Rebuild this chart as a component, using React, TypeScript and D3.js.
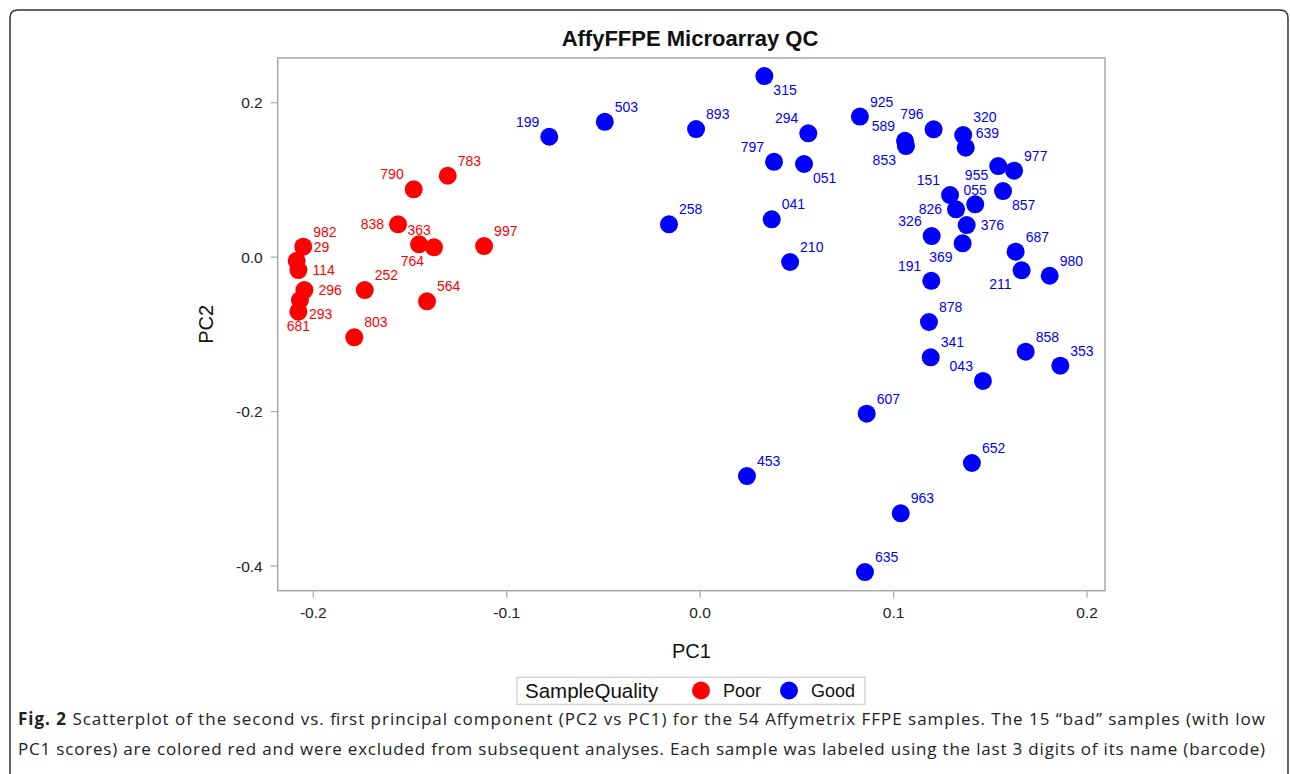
import React from "react";
import * as d3 from "d3";

const poorIds = ["783","790","838","363","764","997","982","29","114","296","293","681","252","564","803"];
const poorPC1 = [-0.1305,-0.1481,-0.1562,-0.1453,-0.1376,-0.1117,-0.2052,-0.2086,-0.2077,-0.2046,-0.2069,-0.2077,-0.1734,-0.1412,-0.1788];
const poorPC2 = [0.1054,0.0878,0.0425,0.0166,0.0127,0.0144,0.0135,-0.0047,-0.0167,-0.0426,-0.0556,-0.0707,-0.0426,-0.0572,-0.1039];
const poorLabelPos = ["ne","nw","w","n","sw","ne","ne","ene","e","e","se","s","ne","ne","ne"];

const goodIds = ["315","199","503","893","294","925","797","051","258","041","210","589","853","796","320","639","977","955","857","151","826","055","376","326","369","687","211","980","191","878","341","043","858","353","607","652","963","635","453"];
const goodPC1 = [0.0332,-0.0780,-0.0493,-0.0021,0.0559,0.0826,0.0382,0.0537,-0.0161,0.0370,0.0465,0.1059,0.1064,0.1207,0.1360,0.1373,0.1623,0.1541,0.1566,0.1292,0.1323,0.1422,0.1378,0.1197,0.1357,0.1631,0.1662,0.1807,0.1195,0.1183,0.1192,0.1462,0.1683,0.1862,0.0861,0.1405,0.1037,0.0852,0.0242];
const goodPC2 = [0.2345,0.1559,0.1753,0.1659,0.1603,0.1821,0.1235,0.1206,0.0425,0.0490,-0.0063,0.1507,0.1439,0.1655,0.1581,0.1417,0.1119,0.1180,0.0856,0.0804,0.0619,0.0684,0.0416,0.0273,0.0179,0.0070,-0.0171,-0.0241,-0.0306,-0.0840,-0.1298,-0.1604,-0.1225,-0.1406,-0.2028,-0.2666,-0.3318,-0.4078,-0.2835];
const goodLabelPos = ["se","nw","ne","ne","nw","ne","nw","se","ne","ne","ne","nw","sw","nw","ne2","ne","ne","sw2","se","nw","w","n","e","nw","sw","ne","sw","ne","nw","ne","ne","nw","ne","ne","ne","ne","ne","ne","ne"];

const xTicks = [-0.2, -0.1, 0.0, 0.1, 0.2];
const yTicks = [0.2, 0.0, -0.2, -0.4];
const groups = ["Poor", "Good"];
const groupColors = ["#FF0000", "#0000FF"];

const titleText = "AffyFFPE Microarray QC";
const legendTitle = "SampleQuality";
const captionBold = "Fig. 2";
const captionLine1 = " Scatterplot of the second vs. first principal component (PC2 vs PC1) for the 54 Affymetrix FFPE samples. The 15 \u201cbad\u201d samples (with low";
const captionLine2 = "PC1 scores) are colored red and were excluded from subsequent analyses. Each sample was labeled using the last 3 digits of its name (barcode)";

const labelOffsets: Record<string, { dx: number; dy: number; anchor: string }> = {
  ne: { dx: 10, dy: -10, anchor: "start" },
  ne2: { dx: 10, dy: -13, anchor: "start" },
  nw: { dx: -10, dy: -10, anchor: "end" },
  se: { dx: 9, dy: 19, anchor: "start" },
  sw: { dx: -10, dy: 19, anchor: "end" },
  sw2: { dx: -10, dy: 13.5, anchor: "end" },
  e: { dx: 14, dy: 5, anchor: "start" },
  ene: { dx: 17, dy: -9, anchor: "start" },
  w: { dx: -14, dy: 5, anchor: "end" },
  n: { dx: 0, dy: -9.5, anchor: "middle" },
  s: { dx: 0, dy: 19, anchor: "middle" },
};

export default function App() {
  const W = 1290, H = 774;
  const frame = { left: 277.7, right: 1105, top: 58, bottom: 590.7 };
  const x = d3.scaleLinear().domain([-0.2, 0.2]).range([313.3, 1087]);
  const y = d3.scaleLinear().domain([0.2, -0.4]).range([102.7, 566]);
  const font = "'Liberation Sans', Arial, sans-serif";
  const r = 9;

  const series = [
    { ids: poorIds, xs: poorPC1, ys: poorPC2, pos: poorLabelPos, color: groupColors[0] },
    { ids: goodIds, xs: goodPC1, ys: goodPC2, pos: goodLabelPos, color: groupColors[1] },
  ];

  const cx = (frame.left + frame.right) / 2;
  const cy = (frame.top + frame.bottom) / 2;
  const fmt = (t: number) => d3.format(".1f")(t).replace("\u2212", "-");

  return (
    <svg width={W} height={H} style={{ position: "absolute", left: 0, top: 0, background: "#fff" }} fontFamily={font}>
      <rect x={0} y={0} width={W} height={H} fill="#fff" />
      <path d={`M10,${H + 5} L10,18 Q10,10 18,10 L1280,10 Q1288,10 1288,18 L1288,${H + 5}`} fill="none" stroke="#333" strokeWidth={1.5} />
      <text x={690} y={46} textAnchor="middle" fontSize={22} fontWeight="bold" fill="#111">{titleText}</text>
      <rect x={frame.left} y={frame.top} width={frame.right - frame.left} height={frame.bottom - frame.top} fill="#fff" stroke="#A8A8A8" strokeWidth={1.5} />
      {xTicks.map((t) => (
        <g key={"xt" + t}>
          <line x1={x(t)} x2={x(t)} y1={frame.bottom} y2={frame.bottom + 7} stroke="#A8A8A8" strokeWidth={1.2} />
          <text x={x(t)} y={frame.bottom + 27} textAnchor="middle" fontSize={15.5} fill="#222">{fmt(t)}</text>
        </g>
      ))}
      {yTicks.map((t) => (
        <g key={"yt" + t}>
          <line x1={frame.left - 7} x2={frame.left} y1={y(t)} y2={y(t)} stroke="#A8A8A8" strokeWidth={1.2} />
          <text x={frame.left - 15} y={y(t) + 5.5} textAnchor="end" fontSize={15.5} fill="#222">{fmt(t)}</text>
        </g>
      ))}
      <text x={cx} y={658} textAnchor="middle" fontSize={20} fill="#111">PC1</text>
      <text transform={`translate(213,${cy}) rotate(-90)`} textAnchor="middle" fontSize={20} fill="#111">PC2</text>
      {series.map((s, si) => (
        <g key={"m" + si}>
          {s.ids.map((id, i) => (
            <circle key={id} cx={x(s.xs[i])} cy={y(s.ys[i])} r={r} fill={s.color} />
          ))}
        </g>
      ))}
      {series.map((s, si) => (
        <g key={"l" + si}>
          {s.ids.map((id, i) => {
            const o = labelOffsets[s.pos[i]];
            return (
              <text key={id} x={x(s.xs[i]) + o.dx} y={y(s.ys[i]) + o.dy} textAnchor={o.anchor} fontSize={14} fill={s.color}>{id}</text>
            );
          })}
        </g>
      ))}
      <rect x={517} y={677.3} width={348} height={27} fill="#fff" stroke="#CCCCCC" strokeWidth={1.2} />
      <text x={525} y={698} fontSize={20.5} fill="#111">{legendTitle}</text>
      {groups.map((g, i) => {
        const lx = i === 0 ? 701 : 789;
        return (
          <g key={g}>
            <circle cx={lx} cy={690.5} r={r} fill={groupColors[i]} />
            <text x={lx + 22} y={697} fontSize={18} fill="#111">{g}</text>
          </g>
        );
      })}
      <text x={18} y={725} fontSize={17} fontFamily="'Open Sans', sans-serif" fill="#222" textLength={1247} lengthAdjust="spacing">
        <tspan fontWeight="bold">{captionBold}</tspan>
        <tspan>{captionLine1}</tspan>
      </text>
      <text x={18} y={755} fontSize={17} fontFamily="'Open Sans', sans-serif" fill="#222" textLength={1247} lengthAdjust="spacing">{captionLine2}</text>
    </svg>
  );
}
